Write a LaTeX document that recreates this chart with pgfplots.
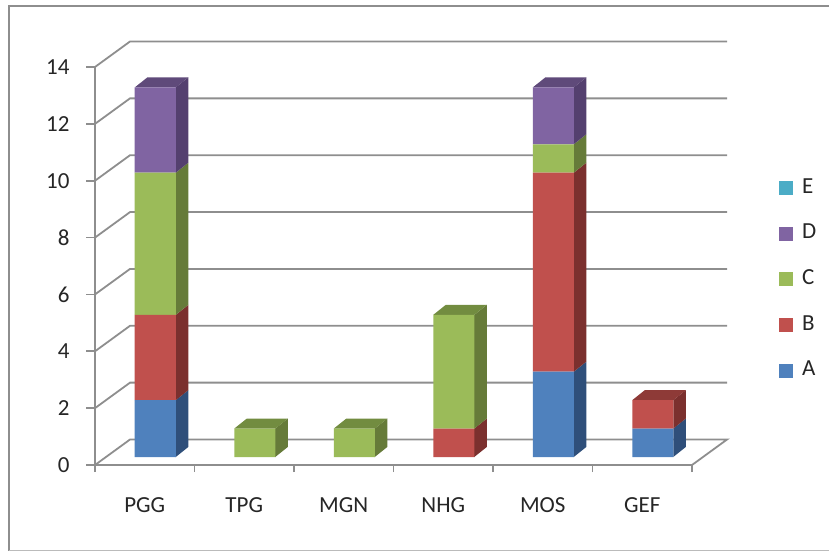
\documentclass[border=0pt]{standalone}
\usepackage{fontspec}
\setmainfont{Carlito}
\usepackage{pgfplots}
\usepackage{pgfplotstable}
\pgfplotsset{compat=1.18}

\definecolor{serA}{HTML}{4F81BD}
\definecolor{serB}{HTML}{C0504D}
\definecolor{serC}{HTML}{9BBB59}
\definecolor{serD}{HTML}{8064A2}
\definecolor{serE}{HTML}{4BACC6}
\definecolor{sideA}{HTML}{2F4F7A}
\definecolor{sideB}{HTML}{7B302E}
\definecolor{sideC}{HTML}{667B39}
\definecolor{sideD}{HTML}{54406F}
\definecolor{topB}{HTML}{8E3A37}
\definecolor{topC}{HTML}{728C40}
\definecolor{topD}{HTML}{5F4A7A}
\definecolor{gridc}{HTML}{8E8E8E}
\definecolor{txt}{HTML}{262626}

\pgfplotstableread{
cat A B C D E
0 2 3 5 3 0
1 0 0 1 0 0
2 0 0 1 0 0
3 0 1 4 0 0
4 3 7 1 2 0
5 1 1 0 0 0
}\stacks

% right side and top of a bar segment: category, from, to, colour
\newcommand{\sideface}[4]{%
  \pgfmathsetmacro{\xa}{#1+0.206}\pgfmathsetmacro{\xb}{#1+0.332}%
  \pgfmathsetmacro{\ya}{#2+0.352}\pgfmathsetmacro{\yb}{#3+0.352}%
  \edef\tmp{\noexpand\addplot[draw=none,fill=#4,forget plot] coordinates
    {(\xa,#2) (\xb,\ya) (\xb,\yb) (\xa,#3)} -- cycle;}\tmp}
\newcommand{\topface}[3]{%
  \pgfmathsetmacro{\xa}{#1-0.206}\pgfmathsetmacro{\xb}{#1+0.206}%
  \pgfmathsetmacro{\xc}{#1+0.332}\pgfmathsetmacro{\xd}{#1-0.08}%
  \pgfmathsetmacro{\yb}{#2+0.352}%
  \edef\tmp{\noexpand\addplot[draw=none,fill=#3,forget plot] coordinates
    {(\xa,#2) (\xb,#2) (\xc,\yb) (\xd,\yb)} -- cycle;}\tmp}

\pgfplotsset{
  barframe/.style={
    at={(95pt,87pt)}, anchor=south west,
    scale only axis, width=597pt, height=398pt,
    xmin=-0.6055, xmax=5.3945, ymin=-0.281, ymax=13.719,
    hide axis, clip=false,
  },
}

\begin{document}
\begin{tikzpicture}[x=1pt,y=1pt]
  \path[use as bounding box] (0,0) rectangle (829,552);
  % chart area frame, open at the right
  \draw[gridc,line width=2pt] (829,546) -- (9,546) -- (9,1.5);
  \draw[gridc!60,line width=1.2pt] (9,1.5) -- (829,1.5);

  % walls, floor and value axis
  \begin{axis}[
    at={(95pt,87pt)}, anchor=south west,
    scale only axis, width=597pt, height=398pt,
    xmin=-0.5, xmax=5.5, ymin=0, ymax=14, clip=false,
    axis x line=bottom, axis y line=left,
    axis line style={gridc,line width=1.8pt,-},
    xtick={0,1,2,3,4,5},
    xticklabels={PGG,TPG,MGN,NHG,MOS,GEF},
    minor xtick={-0.5,0.5,1.5,2.5,3.5,4.5,5.5},
    ytick={0,2,4,6,8,10,12,14},
    tick align=outside, major tick length=9pt, minor tick length=7pt,
    major x tick style={draw=none},
    minor x tick style={gridc,line width=1.8pt},
    major y tick style={gridc,line width=1.8pt},
    /pgf/number format/assume math mode=true,
    tick label style={font=\fontsize{23}{25}\selectfont,text=txt},
    yticklabel style={xshift=-13pt},
    xticklabel style={yshift=-20pt},
  ]
    \addplot[gridc,line width=1.8pt] coordinates {(5.5,0) (5.852,0.897) (-0.148,0.897) (-0.5,0)};
    \addplot[gridc,line width=1.8pt] coordinates {(-0.5,2) (-0.148,2.897) (5.852,2.897)};
    \addplot[gridc,line width=1.8pt] coordinates {(-0.5,4) (-0.148,4.897) (5.852,4.897)};
    \addplot[gridc,line width=1.8pt] coordinates {(-0.5,6) (-0.148,6.897) (5.852,6.897)};
    \addplot[gridc,line width=1.8pt] coordinates {(-0.5,8) (-0.148,8.897) (5.852,8.897)};
    \addplot[gridc,line width=1.8pt] coordinates {(-0.5,10) (-0.148,10.897) (5.852,10.897)};
    \addplot[gridc,line width=1.8pt] coordinates {(-0.5,12) (-0.148,12.897) (5.852,12.897)};
    \addplot[gridc,line width=1.8pt] coordinates {(-0.5,14) (-0.148,14.897) (5.852,14.897)};
  \end{axis}

  % sides and tops of the bars
  \begin{axis}[barframe]
    \sideface{0}{0}{2}{sideA}
    \sideface{0}{2}{5}{sideB}
    \sideface{0}{5}{10}{sideC}
    \sideface{0}{10}{13}{sideD}
    \topface{0}{13}{topD}
    \sideface{1}{0}{1}{sideC}
    \topface{1}{1}{topC}
    \sideface{2}{0}{1}{sideC}
    \topface{2}{1}{topC}
    \sideface{3}{0}{1}{sideB}
    \sideface{3}{1}{5}{sideC}
    \topface{3}{5}{topC}
    \sideface{4}{0}{3}{sideA}
    \sideface{4}{3}{10}{sideB}
    \sideface{4}{10}{11}{sideC}
    \sideface{4}{11}{13}{sideD}
    \topface{4}{13}{topD}
    \sideface{5}{0}{1}{sideA}
    \sideface{5}{1}{2}{sideB}
    \topface{5}{2}{topB}
  \end{axis}

  % front faces and legend
  \begin{axis}[barframe,
    ybar stacked, bar width=41pt,
    reverse legend,
    legend cell align=left,
    legend image code/.code={\path[#1] (0pt,-7pt) rectangle (14pt,7pt);},
    legend style={
      draw=none, fill=none, at={(684pt,286pt)}, anchor=north west,
      font=\fontsize{23}{25}\selectfont, text=txt,
      row sep=27.6pt, inner sep=0pt,
      nodes={inner sep=0pt,text height=14pt,text depth=4pt},
      /tikz/every odd column/.append style={column sep=9pt},
    },
  ]
    \addplot[draw=none,fill=serA] table[x=cat,y=A] {\stacks};
    \addlegendentry{A}
    \addplot[draw=none,fill=serB] table[x=cat,y=B] {\stacks};
    \addlegendentry{B}
    \addplot[draw=none,fill=serC] table[x=cat,y=C] {\stacks};
    \addlegendentry{C}
    \addplot[draw=none,fill=serD] table[x=cat,y=D] {\stacks};
    \addlegendentry{D}
    \addplot[draw=none,fill=serE] table[x=cat,y=E] {\stacks};
    \addlegendentry{E}
  \end{axis}
\end{tikzpicture}
\end{document}
